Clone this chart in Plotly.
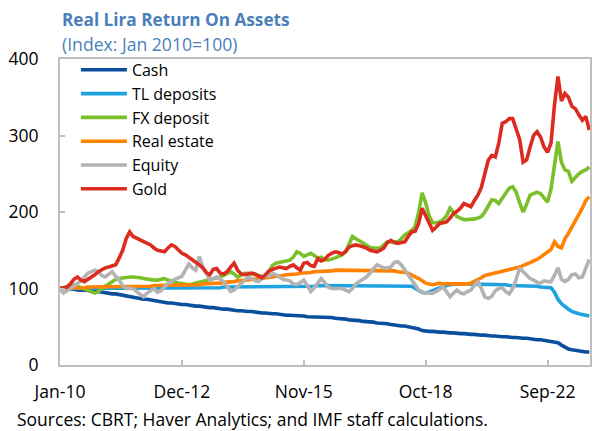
import plotly.graph_objects as go

# monthly index, Jan-2010 = 100
cash = [100, 100, 99, 99, 99, 98, 98, 98, 97, 97, 97, 96, 95, 95, 94, 93, 93, 92, 91, 90,
        90, 89, 88, 87, 86, 86, 85, 84, 84, 83, 82, 81, 81, 80, 80, 79, 79, 78, 78, 77,
        77, 76, 76, 75, 75, 74, 74, 73, 73, 72, 72, 71, 71, 70, 70, 70, 69, 69, 68, 68,
        67, 67, 67, 66, 66, 65, 65, 65, 64, 64, 64, 63, 63, 63, 62, 62, 62, 62, 62, 61,
        61, 60, 60, 59, 59, 58, 58, 57, 57, 56, 56, 55, 55, 54, 54, 53, 52, 52, 51, 51,
        50, 49, 49, 47, 45, 44, 44, 44, 43, 43, 43, 42, 42, 42, 41, 41, 41, 40, 40, 40,
        39, 39, 39, 38, 38, 38, 37, 37, 37, 36, 36, 36, 35, 35, 35, 34, 34, 33, 33, 32,
        32, 31, 30, 29, 26, 23, 21, 20, 19, 18, 18, 17, 17]

tl_deposits = [100, 100, 100, 100, 100, 100, 100, 101, 101, 101, 101, 101, 101, 101, 101, 101, 101, 101, 101, 101,
               101, 101, 101, 101, 100, 100, 100, 100, 100, 100, 100, 101, 101, 101, 101, 101, 101, 101, 101, 101,
               101, 101, 101, 101, 101, 101, 101, 102, 102, 102, 102, 102, 102, 102, 102, 102, 102, 102, 102, 102,
               102, 102, 103, 103, 103, 103, 103, 103, 103, 103, 103, 103, 103, 103, 104, 104, 104, 104, 104, 104,
               104, 104, 104, 104, 104, 104, 104, 103, 103, 103, 103, 103, 103, 103, 103, 103, 103, 103, 103, 103,
               103, 103, 100, 97, 95, 94, 95, 97, 99, 101, 103, 104, 105, 106, 106, 106, 106, 106, 106, 106,
               105, 105, 105, 105, 105, 105, 105, 105, 105, 104, 104, 104, 104, 104, 103, 103, 103, 103, 102, 102,
               102, 101, 95, 86, 80, 76, 73, 70, 68, 67, 66, 65, 64]

fx_deposit = [100, 101, 102, 103, 104, 103, 101, 99, 97, 96, 94, 96, 100, 103, 106, 109, 112, 113, 114, 114,
              115, 115, 115, 114, 113, 112, 111, 111, 111, 112, 113, 111, 109, 108, 107, 106, 105, 105, 106, 107,
              108, 110, 111, 112, 113, 114, 115, 117, 119, 122, 119, 115, 117, 120, 120, 119, 119, 118, 116, 115,
              122, 130, 133, 134, 135, 136, 137, 141, 148, 146, 142, 144, 146, 143, 140, 141, 138, 137, 138, 140,
              142, 144, 148, 158, 168, 165, 162, 160, 157, 154, 153, 153, 153, 157, 161, 161, 161, 161, 165, 170,
              173, 176, 181, 200, 225, 212, 195, 186, 186, 187, 190, 195, 205, 200, 194, 192, 190, 190, 190, 191,
              192, 194, 200, 207, 216, 215, 211, 218, 225, 231, 233, 226, 212, 200, 210, 222, 224, 226, 224, 218,
              213, 230, 262, 292, 265, 255, 253, 240, 245, 250, 253, 255, 259]

real_estate = [100, 100, 100, 101, 101, 101, 101, 101, 102, 102, 102, 102, 102, 102, 102, 103, 103, 103, 103, 103,
               103, 103, 103, 103, 103, 103, 103, 104, 104, 104, 104, 104, 104, 104, 104, 104, 104, 104, 105, 105,
               105, 106, 106, 106, 107, 107, 107, 108, 108, 109, 109, 110, 110, 111, 111, 112, 112, 113, 113, 114,
               114, 115, 116, 116, 117, 118, 118, 119, 119, 120, 120, 121, 121, 122, 122, 123, 123, 123, 123, 124,
               124, 124, 124, 124, 124, 124, 124, 124, 124, 124, 124, 124, 124, 124, 123, 123, 123, 122, 122, 121,
               120, 118, 116, 113, 110, 107, 106, 105, 106, 107, 106, 106, 105, 105, 105, 105, 105, 106, 107, 109,
               111, 114, 117, 118, 119, 120, 121, 122, 123, 124, 125, 127, 128, 130, 132, 133, 135, 138, 141, 144,
               147, 151, 161, 155, 153, 165, 172, 180, 190, 197, 205, 215, 220]

equity = [100, 94, 97, 100, 103, 106, 110, 115, 120, 122, 124, 122, 117, 115, 118, 122, 116, 111, 104, 100,
          100, 100, 96, 92, 89, 94, 97, 100, 95, 97, 102, 106, 110, 112, 114, 116, 124, 132, 127, 124,
          142, 128, 120, 111, 113, 115, 112, 109, 103, 96, 98, 102, 106, 111, 115, 113, 110, 109, 113, 117,
          116, 120, 118, 115, 112, 111, 110, 106, 105, 108, 111, 104, 96, 101, 108, 113, 108, 102, 100, 100,
          100, 100, 98, 96, 100, 106, 109, 112, 115, 120, 126, 131, 129, 127, 127, 128, 134, 135, 131, 124,
          118, 110, 104, 98, 96, 94, 94, 94, 96, 99, 102, 96, 89, 94, 98, 94, 93, 96, 98, 104,
          109, 100, 89, 87, 90, 97, 100, 101, 96, 93, 100, 112, 127, 122, 117, 113, 111, 108, 107, 110,
          109, 109, 117, 127, 112, 109, 112, 118, 119, 114, 115, 128, 138]

gold = [100, 101, 102, 106, 112, 115, 111, 109, 112, 114, 118, 122, 125, 127, 128, 130, 131, 140, 150, 165,
        174, 168, 166, 164, 161, 159, 157, 153, 150, 149, 148, 153, 157, 155, 150, 146, 144, 141, 138, 135,
        131, 127, 121, 118, 125, 126, 120, 119, 122, 128, 133, 124, 119, 118, 119, 120, 119, 116, 114, 118,
        123, 125, 127, 128, 127, 126, 129, 131, 127, 124, 133, 134, 130, 129, 139, 136, 138, 143, 146, 148,
        147, 145, 148, 154, 156, 157, 156, 155, 153, 150, 149, 148, 150, 153, 160, 163, 160, 159, 160, 161,
        168, 174, 175, 185, 205, 195, 185, 176, 180, 185, 186, 187, 192, 198, 201, 205, 211, 209, 207, 215,
        222, 232, 250, 268, 274, 272, 290, 316, 318, 322, 322, 308, 295, 265, 268, 285, 300, 305, 298, 285,
        278, 290, 340, 377, 345, 355, 350, 338, 335, 327, 320, 325, 307]

months = list(range(len(cash)))
tick_pos = [0, 35, 70, 105, 140]
tick_text = ["Jan-10", "Dec-12", "Nov-15", "Oct-18", "Sep-22"]

series = [
    ("Cash", cash, "#0a4f9e"),
    ("TL deposits", tl_deposits, "#1ea3e0"),
    ("FX deposit", fx_deposit, "#7bbf2a"),
    ("Real estate", real_estate, "#ff8300"),
    ("Equity", equity, "#b3b3b3"),
    ("Gold", gold, "#dc2b1f"),
]

FONT = "Open Sans"
BLUE_TXT = "#4a7fbb"

fig = go.Figure()
for name, vals, col in series:
    fig.add_trace(go.Scatter(x=months, y=vals, name=name, mode="lines",
                             line=dict(color=col, width=3.6)))

fig.update_layout(
    width=592, height=431,
    margin=dict(l=60, r=2, t=59, b=66, autoexpand=False),
    paper_bgcolor="white", plot_bgcolor="white",
    font=dict(family=FONT, size=17.5, color="#000000"),
    showlegend=True,
    legend=dict(x=0.03, y=1.02, xanchor="left", yanchor="top",
                bgcolor="rgba(0,0,0,0)", font=dict(size=16),
                tracegroupgap=0, itemwidth=46),
    annotations=[
        dict(text="<b>Real Lira Return On Assets</b>", xref="paper", yref="paper",
             x=0, y=1.128, xanchor="left", yanchor="middle", showarrow=False,
             font=dict(size=17.2, color=BLUE_TXT)),
        dict(text="(Index: Jan 2010=100)", xref="paper", yref="paper",
             x=0, y=1.049, xanchor="left", yanchor="middle", showarrow=False,
             font=dict(size=17.6, color=BLUE_TXT)),
        dict(text="Sources: CBRT; Haver Analytics; and IMF staff calculations.",
             xref="paper", yref="paper", x=-0.085, y=-0.177, xanchor="left", yanchor="middle",
             showarrow=False, font=dict(size=17.5, color="#000000")),
    ],
)

fig.update_xaxes(range=[0, 152.2], tickvals=tick_pos, ticktext=tick_text, automargin=False,
                 showline=True, linecolor="#bfbfbf", linewidth=2, mirror=True,
                 ticks="inside", ticklen=5, tickcolor="#bfbfbf", tickwidth=2,
                 showgrid=False, zeroline=False, ticklabelstandoff=10)
fig.update_yaxes(range=[0, 400], tickvals=[0, 100, 200, 300, 400], automargin=False,
                 showline=True, linecolor="#bfbfbf", linewidth=2, mirror=True,
                 ticks="inside", ticklen=5, tickcolor="#bfbfbf", tickwidth=2,
                 showgrid=False, zeroline=False, ticklabelstandoff=16)

# drop the default page margin so the figure sits at the window's corner
fig.write_html("out.html", config={"displayModeBar": False},
               post_script="document.body.style.margin='0';document.body.style.overflow='hidden';")
